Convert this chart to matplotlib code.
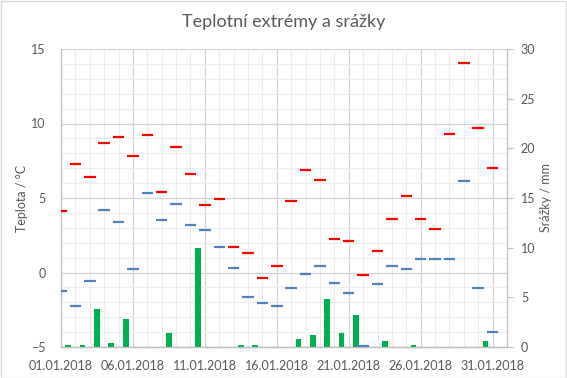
import matplotlib
matplotlib.use("Agg")
import matplotlib.pyplot as plt
from matplotlib.ticker import MultipleLocator, FixedLocator
from matplotlib.patches import Rectangle

plt.rcParams['font.family'] = ['Lato', 'DejaVu Sans']

# Data (January 2018)
days = list(range(31))  # 0 = 01.01.2018
t_max = [4.13, 7.30, 6.44, 8.71, 9.12, 7.84, 9.25, 5.41, 8.44, 6.62, 4.53,
         4.94, 1.73, 1.32, -0.36, 0.45, 4.80, 6.85, 6.24, 2.24, 2.11, -0.18,
         1.44, 3.59, 5.16, 3.59, 2.92, 9.27, 14.04, 9.68, 6.98]
t_min = [-1.24, -2.27, -0.56, 4.22, 3.39, 0.22, 5.34, 3.52, 4.60, 3.21, 2.85,
         1.70, 0.29, -1.66, -2.07, -2.27, -1.06, -0.11, 0.42, -0.72, -1.39, -4.90,
         -0.79, 0.42, 0.22, 0.90, 0.90, 0.90, 6.17, -1.06, -4.02]
precip = [0.2, 0.2, 3.8, 0.4, 2.8, 0, 0, 1.4, 0, 10.0, 0, 0, 0.2, 0.2, 0, 0,
          0.8, 1.2, 4.8, 1.4, 3.2, 0, 0.6, 0, 0.2, 0, 0, 0, 0, 0.6, 0]
tick_pos = [0, 5, 10, 15, 20, 25, 30]
tick_labels = ['01.01.2018', '06.01.2018', '11.01.2018', '16.01.2018',
               '21.01.2018', '26.01.2018', '31.01.2018']

txt = '#595959'
fig = plt.figure(figsize=(5.67, 3.78), dpi=100)
fig.patches.append(Rectangle((0.001, 0.001), 0.997, 0.996, transform=fig.transFigure,
                             fill=False, edgecolor='#D9D9D9', linewidth=1.0))
ax = fig.add_axes([61/567, 1 - 347/378, (507 - 61)/567, (347 - 49)/378])
ax2 = ax.twinx()

ax.set_xlim(0, 31)
ax.set_ylim(-5, 15)
ax2.set_ylim(0, 30)

# grid
ax.xaxis.set_minor_locator(MultipleLocator(1))
ax.yaxis.set_minor_locator(MultipleLocator(1))
ax.xaxis.set_major_locator(FixedLocator(tick_pos))
ax.yaxis.set_major_locator(MultipleLocator(5))
ax.grid(which='minor', color='#EDEDED', linewidth=0.8)
ax.grid(which='major', color='#D4D4D4', linewidth=0.9)
ax.set_axisbelow(True)

# bars on secondary axis
bx = [d + 0.5 for d in days]
ax2.bar(bx, precip, width=0.4, color='#00B050', zorder=2)

# temperature dashes
for d, hi, lo in zip(days, t_max, t_min):
    ax2.plot([d - 0.4, d + 0.4], [(hi + 5) * 1.5] * 2, color='#FF0000', lw=1.6,
             solid_capstyle='butt', zorder=3)
    ax2.plot([d - 0.4, d + 0.4], [(lo + 5) * 1.5] * 2, color='#4F81BD', lw=1.6,
             solid_capstyle='butt', zorder=3)

ax.set_xticks(tick_pos)
ax.set_xticklabels(tick_labels)
ax.tick_params(axis='x', which='both', length=0, pad=9, labelsize=9, labelcolor=txt)
ax.tick_params(axis='y', which='both', length=0, pad=11, labelsize=9, labelcolor=txt)
ax2.yaxis.set_major_locator(MultipleLocator(5))
ax2.tick_params(axis='y', which='major', length=4, width=0.8, color='#BFBFBF',
                pad=6, labelsize=9, labelcolor=txt)
ax2.tick_params(axis='y', which='minor', length=0)

for a in (ax, ax2):
    a.spines['top'].set_visible(False)
    for s in ('left', 'right', 'bottom'):
        a.spines[s].set_color('#BFBFBF')
        a.spines[s].set_linewidth(0.9)
ax.spines['right'].set_visible(False)
ax2.spines['left'].set_visible(False)

ax.set_ylabel('Teplota / °C', color=txt, fontsize=9, labelpad=2)
ax2.set_ylabel('Srážky / mm', color=txt, fontsize=9, labelpad=3)
fig.text(0.5, 1 - 22/378, 'Teplotní extrémy a srážky', ha='center', va='center',
         fontsize=13, color=txt)

fig.savefig('out.png', dpi=100)
